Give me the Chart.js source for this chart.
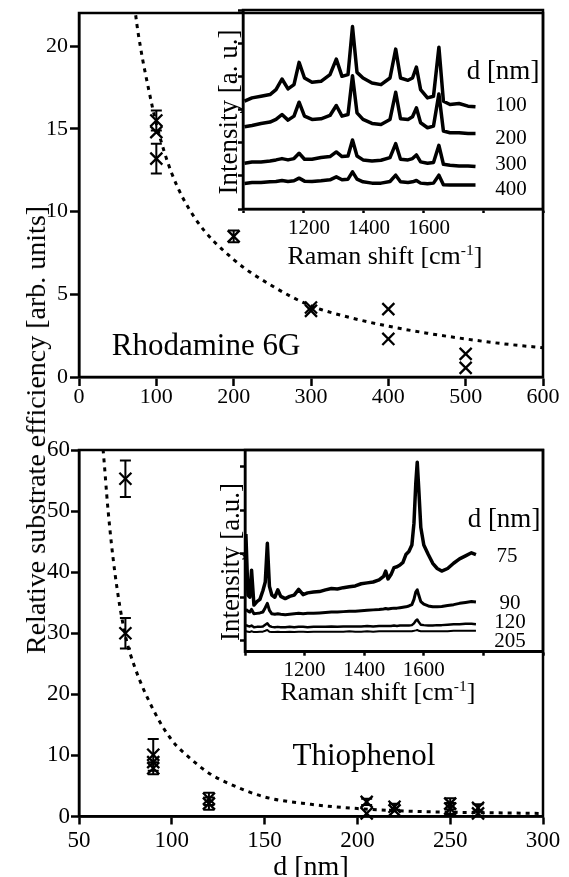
<!DOCTYPE html>
<html>
<head>
<meta charset="utf-8">
<title>Relative substrate efficiency</title>
<script src="https://cdn.jsdelivr.net/npm/chart.js@4"></script>
<style>
  html, body { margin: 0; padding: 0; background: #fff; overflow: hidden; }
  #wrap { position: relative; width: 569px; height: 877px; }
  canvas { position: absolute; }
  .t { position: absolute; font-family: 'Liberation Serif', 'Times New Roman', serif; color: #000;
       line-height: 1; white-space: nowrap; transform: translate(-50%, -50%); }
  .rot { transform: translate(-50%, -50%) rotate(-90deg); }
  sup { font-size: 0.6em; vertical-align: 0.6em; line-height: 0; }
</style>
</head>
<body>
<div id="wrap">
  <canvas id="c1" width="569" height="420" style="left:0;top:0"></canvas>
  <canvas id="c2" width="339" height="240" style="left:230px;top:0"></canvas>
  <canvas id="c3" width="569" height="447" style="left:0;top:430px"></canvas>
  <canvas id="c4" width="339" height="270" style="left:230px;top:440px"></canvas>

  <div class="t rot" style="left:36px;top:430px;font-size:28px">Relative substrate efficiency [arb. units]</div>
  <div class="t" style="left:206px;top:344px;font-size:31px">Rhodamine 6G</div>
  <div class="t" style="left:364px;top:754px;font-size:31px">Thiophenol</div>
  <div class="t" style="left:311px;top:866px;font-size:28px">d [nm]</div>

  <!-- inset de cima -->
  <div class="t rot" style="left:228px;top:112px;font-size:27px">Intensity [a. u.]</div>
  <div class="t" style="left:385px;top:256px;font-size:26px">Raman shift [cm<sup>-1</sup>]</div>
  <div class="t" style="left:503px;top:70px;font-size:27px">d [nm]</div>
  <div class="t" style="left:511px;top:104px;font-size:21px">100</div>
  <div class="t" style="left:511px;top:137px;font-size:21px">200</div>
  <div class="t" style="left:511px;top:163px;font-size:21px">300</div>
  <div class="t" style="left:511px;top:188px;font-size:21px">400</div>

  <!-- inset de baixo -->
  <div class="t rot" style="left:230px;top:562px;font-size:27px">Intensity [a.u.]</div>
  <div class="t" style="left:378px;top:692px;font-size:26px">Raman shift [cm<sup>-1</sup>]</div>
  <div class="t" style="left:504px;top:518px;font-size:27px">d [nm]</div>
  <div class="t" style="left:507px;top:555px;font-size:21px">75</div>
  <div class="t" style="left:510px;top:602px;font-size:21px">90</div>
  <div class="t" style="left:510px;top:621px;font-size:21px">120</div>
  <div class="t" style="left:510px;top:640px;font-size:21px">205</div>
</div>

<script>
// Rhodamine 6G: eficiência x distância d
const dR6G   = [100, 100, 100, 200, 300, 300, 400, 400, 500, 500];
const effR6G = [15.5, 14.8, 13.2, 8.5, 4.2, 4.0, 4.1, 2.3, 1.4, 0.55];
const errR6G = [0.6, 0, 0.9, 0.35, 0, 0, 0, 0, 0, 0];

// curva tracejada
const fitR6G_d = [70, 73, 80, 90, 100, 120, 150, 200, 250, 300, 350, 400, 450, 500, 550, 600];
const fitR6G_y = [23.5, 22, 19.8, 17.4, 15.3, 12.3, 9.6, 7.1, 5.5, 4.3, 3.6, 3.07, 2.65, 2.3, 2.0, 1.77];

// Thiophenol
const dThio   = [75, 75, 90, 90, 90, 120, 120, 205, 205, 220, 220, 250, 250, 265, 265];
const effThio = [55.3, 30.0, 10.1, 8.9, 7.9, 2.9, 2.1, 2.4, 0.5, 1.6, 1.0, 2.1, 1.3, 1.4, 0.5];
const errThio = [3.0, 2.5, 2.6, 0, 1.0, 1.0, 1.0, 0.5, 0, 0.5, 0, 0.9, 0.9, 0.6, 0];

const fitThio_d = [62, 63, 65.7, 69.3, 74.7, 80, 90, 100, 110, 120, 130, 150, 175, 200, 225, 250, 275, 300];
const fitThio_y = [63, 60, 50, 40, 30, 24.5, 17.5, 12.5, 9.5, 7.1, 5.5, 3.2, 2.0, 1.3, 0.9, 0.7, 0.6, 0.5];

// espectros Raman do inset de cima (R6G)
const ramanR6G = [1005, 1030, 1060, 1090, 1110, 1130, 1150, 1170, 1187, 1205, 1230, 1260, 1290, 1311, 1330, 1350, 1365, 1380,
                  1400, 1430, 1460, 1490, 1509, 1525, 1550, 1565, 1578, 1592, 1615, 1635, 1653, 1668, 1690, 1720, 1750, 1775];
const r6g100 = [3.25, 3.35, 3.40, 3.45, 3.60, 3.92, 3.62, 3.75, 4.42, 3.95, 3.82, 3.85, 4.05, 4.52, 4.00, 4.05, 5.50, 4.12,
                3.95, 3.80, 3.75, 3.95, 4.82, 3.95, 3.88, 3.95, 4.28, 3.60, 3.35, 3.40, 4.88, 3.25, 3.15, 3.18, 3.10, 3.08];
const r6g200 = [2.48, 2.52, 2.58, 2.62, 2.70, 2.85, 2.68, 2.80, 3.22, 2.80, 2.70, 2.72, 2.82, 3.12, 2.80, 2.85, 4.02, 2.90,
                2.70, 2.58, 2.55, 2.70, 3.52, 2.72, 2.70, 2.78, 3.05, 2.60, 2.45, 2.50, 3.47, 2.35, 2.30, 2.30, 2.28, 2.28];
const r6g300 = [1.38, 1.42, 1.42, 1.45, 1.48, 1.52, 1.48, 1.52, 1.68, 1.50, 1.50, 1.55, 1.58, 1.72, 1.58, 1.60, 2.08, 1.60,
                1.48, 1.45, 1.47, 1.55, 1.97, 1.50, 1.48, 1.52, 1.63, 1.42, 1.38, 1.40, 1.92, 1.35, 1.32, 1.30, 1.30, 1.28];
const r6g400 = [0.77, 0.80, 0.80, 0.82, 0.83, 0.86, 0.83, 0.85, 0.93, 0.84, 0.83, 0.85, 0.88, 0.97, 0.88, 0.90, 1.12, 0.90,
                0.82, 0.78, 0.78, 0.83, 1.02, 0.82, 0.80, 0.82, 0.86, 0.78, 0.76, 0.78, 1.02, 0.73, 0.72, 0.72, 0.72, 0.72];

// espectros Raman do inset de baixo (thiophenol)
const ramanThio = [1003, 1010, 1016, 1022, 1030, 1040, 1050, 1060, 1068, 1075, 1082, 1090, 1100, 1110, 1120, 1135, 1150, 1165, 1180, 1195,
                   1210, 1230, 1250, 1270, 1290, 1310, 1330, 1350, 1370, 1390, 1410, 1430, 1450, 1465, 1472, 1480, 1490, 1500, 1510, 1520,
                   1530, 1540, 1550, 1560, 1567, 1573, 1578, 1583, 1590, 1600, 1615, 1630, 1645, 1660, 1680, 1700, 1720, 1740, 1760, 1775];
const thio75  = [2.45, 1.05, 1.00, 1.62, 0.82, 0.90, 0.95, 1.15, 1.35, 2.24, 1.25, 1.05, 1.00, 1.17, 1.02, 0.97, 1.02, 1.05, 1.18, 1.06,
                 1.10, 1.12, 1.13, 1.17, 1.20, 1.19, 1.22, 1.24, 1.26, 1.31, 1.33, 1.35, 1.40, 1.48, 1.60, 1.42, 1.52, 1.68, 1.70, 1.74,
                 1.80, 1.98, 2.05, 2.20, 2.70, 3.60, 4.10, 3.50, 2.60, 2.20, 1.98, 1.78, 1.66, 1.60, 1.66, 1.78, 1.88, 1.95, 2.02, 1.98];
const thio90  = [0.72, 0.68, 0.66, 0.72, 0.62, 0.63, 0.64, 0.66, 0.76, 0.86, 0.70, 0.62, 0.61, 0.62, 0.61, 0.60, 0.61, 0.62, 0.63, 0.62,
                 0.63, 0.63, 0.64, 0.65, 0.66, 0.66, 0.67, 0.68, 0.68, 0.69, 0.70, 0.71, 0.72, 0.73, 0.74, 0.73, 0.74, 0.75, 0.75, 0.76,
                 0.77, 0.78, 0.80, 0.83, 0.95, 1.12, 1.17, 1.05, 0.90, 0.84, 0.80, 0.78, 0.78, 0.79, 0.81, 0.83, 0.86, 0.88, 0.90, 0.89];
const thio120 = [0.36, 0.34, 0.33, 0.35, 0.31, 0.32, 0.32, 0.33, 0.37, 0.40, 0.34, 0.32, 0.31, 0.32, 0.31, 0.31, 0.32, 0.31, 0.32, 0.32,
                 0.31, 0.32, 0.32, 0.32, 0.33, 0.32, 0.33, 0.33, 0.33, 0.33, 0.34, 0.33, 0.34, 0.34, 0.34, 0.34, 0.34, 0.35, 0.34, 0.35,
                 0.35, 0.35, 0.35, 0.36, 0.40, 0.46, 0.49, 0.43, 0.37, 0.36, 0.35, 0.35, 0.36, 0.36, 0.37, 0.38, 0.38, 0.39, 0.39, 0.38];
const thio205 = [0.22, 0.21, 0.20, 0.22, 0.20, 0.20, 0.21, 0.21, 0.23, 0.25, 0.21, 0.20, 0.20, 0.21, 0.20, 0.20, 0.21, 0.20, 0.21, 0.21,
                 0.20, 0.21, 0.21, 0.21, 0.21, 0.21, 0.21, 0.22, 0.21, 0.21, 0.22, 0.21, 0.22, 0.22, 0.22, 0.22, 0.22, 0.22, 0.22, 0.22,
                 0.22, 0.22, 0.22, 0.22, 0.23, 0.24, 0.25, 0.23, 0.22, 0.22, 0.22, 0.22, 0.22, 0.22, 0.22, 0.23, 0.23, 0.23, 0.23, 0.23];


Chart.defaults.font.family = "'Liberation Serif', 'Times New Roman', serif";
Chart.defaults.color = '#000';

const preto = '#000';
const pontos = (xs, ys) => xs.map((x, i) => ({ x, y: ys[i] }));

// caixa fechada em volta da área do gráfico
const moldura = {
  id: 'moldura',
  afterDraw(chart) {
    const { ctx, chartArea: a } = chart;
    ctx.save();
    ctx.strokeStyle = preto;
    ctx.lineWidth = 2.5;
    ctx.strokeRect(a.left, a.top, a.right - a.left, a.bottom - a.top);
    ctx.restore();
  }
};

// barras de erro verticais com "chapéu"
function barrasErro(xs, ys, errs) {
  return {
    id: 'barrasErro',
    afterDatasetsDraw(chart) {
      const { ctx, scales: { x, y } } = chart;
      ctx.save();
      ctx.strokeStyle = preto;
      ctx.lineWidth = 2;
      errs.forEach((e, i) => {
        if (!e) return;
        const px = x.getPixelForValue(xs[i]);
        const y1 = y.getPixelForValue(ys[i] + e);
        const y2 = y.getPixelForValue(ys[i] - e);
        ctx.beginPath();
        ctx.moveTo(px, y1); ctx.lineTo(px, y2);
        ctx.moveTo(px - 5.5, y1); ctx.lineTo(px + 5.5, y1);
        ctx.moveTo(px - 5.5, y2); ctx.lineTo(px + 5.5, y2);
        ctx.stroke();
      });
      ctx.restore();
    }
  };
}

function escala(min, max, step, o) {
  return {
    type: 'linear', min, max,
    border: { display: true, color: preto, width: 2.5 },
    grid: { drawOnChartArea: false, drawTicks: true, tickLength: o.tick, tickWidth: 2.5, tickColor: preto },
    ticks: {
      stepSize: step, includeBounds: false, autoSkip: false, maxRotation: 0, minRotation: 0,
      padding: o.pad, labelOffset: o.offset || 0,
      font: { size: o.font, lineHeight: 1 },
      callback: o.label || (v => v)
    },
    afterFit: o.fit
  };
}

const semLegenda = { legend: { display: false }, tooltip: { enabled: false } };

const marcadores = (xs, ys) => ({
  data: pontos(xs, ys), pointStyle: 'crossRot', pointRadius: 8.5, pointBorderWidth: 2.3,
  borderColor: preto, backgroundColor: preto, clip: false
});
const tracejada = (xs, ys) => ({
  data: pontos(xs, ys), showLine: true, pointRadius: 0, borderColor: preto, borderWidth: 3,
  borderDash: [4, 5], cubicInterpolationMode: 'monotone'
});
const espectro = (xs, ys, w) => ({
  data: pontos(xs, ys), showLine: true, pointRadius: 0, borderColor: preto, borderWidth: w,
  borderJoinStyle: 'round'
});

// 1. painel de cima — Rhodamine 6G
new Chart(document.getElementById('c1'), {
  type: 'scatter',
  data: { datasets: [marcadores(dR6G, effR6G), tracejada(fitR6G_d, fitR6G_y)] },
  options: {
    responsive: false, animation: false,
    layout: { padding: { top: 10, right: 26, left: 0, bottom: 0 } },
    plugins: semLegenda,
    scales: {
      x: escala(0, 600, 100, { tick: 9, pad: 0, font: 22, fit: s => { s.height = 43; } }),
      y: escala(0, 22, 5, { tick: 9, pad: 2, font: 22, fit: s => { s.width = 79; } })
    }
  },
  plugins: [moldura, barrasErro(dR6G, effR6G, errR6G)]
});

// 2. inset de cima — espectros R6G
new Chart(document.getElementById('c2'), {
  type: 'scatter',
  data: { datasets: [
    espectro(ramanR6G, r6g100, 3.5), espectro(ramanR6G, r6g200, 3.5),
    espectro(ramanR6G, r6g300, 3.5), espectro(ramanR6G, r6g400, 3.5)
  ] },
  options: {
    responsive: false, animation: false,
    layout: { padding: { top: 10, right: 26, left: 0, bottom: 0 } },
    plugins: semLegenda,
    scales: {
      x: escala(1000, 2000, 200, { tick: 4, pad: 4.5, font: 21, offset: 6,
        label: v => (v > 1000 && v < 1800) ? v : '', fit: s => { s.height = 31; } }),
      y: escala(0, 6, 1, { tick: 5, pad: 0, font: 10, label: () => '', fit: s => { s.width = 13; } })
    }
  },
  plugins: [moldura]
});

// 3. painel de baixo — Thiophenol
new Chart(document.getElementById('c3'), {
  type: 'scatter',
  data: { datasets: [marcadores(dThio, effThio), tracejada(fitThio_d, fitThio_y)] },
  options: {
    responsive: false, animation: false,
    layout: { padding: { top: 20, right: 26, left: 0, bottom: 0 } },
    plugins: semLegenda,
    scales: {
      x: escala(50, 300, 50, { tick: 8, pad: 5, font: 23, fit: s => { s.height = 60.5; } }),
      y: escala(0, 60, 10, { tick: 8, pad: 1, font: 23, fit: s => { s.width = 79; } })
    }
  },
  plugins: [moldura, barrasErro(dThio, effThio, errThio)]
});

// 4. inset de baixo — espectros thiophenol
new Chart(document.getElementById('c4'), {
  type: 'scatter',
  data: { datasets: [
    espectro(ramanThio, thio75, 3.5), espectro(ramanThio, thio90, 3),
    espectro(ramanThio, thio120, 2.5), espectro(ramanThio, thio205, 2)
  ] },
  options: {
    responsive: false, animation: false,
    layout: { padding: { top: 10, right: 26, left: 0, bottom: 0 } },
    plugins: semLegenda,
    scales: {
      x: escala(1000, 2000, 200, { tick: 4, pad: 4, font: 21,
        label: v => (v > 1000 && v < 1800) ? v : '', fit: s => { s.height = 58.3; } }),
      y: escala(-0.25, 4.38, 1, { tick: 5, pad: 0, font: 10, label: () => '', fit: s => { s.width = 15; } })
    }
  },
  plugins: [moldura]
});
</script>
</body>
</html>
